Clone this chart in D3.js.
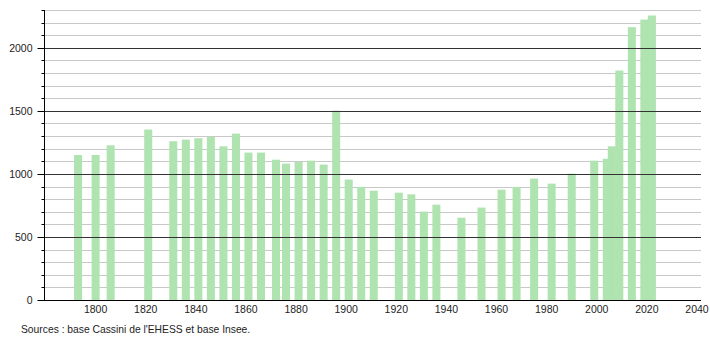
<!DOCTYPE html>
<html>
<head>
<meta charset="utf-8">
<script src="https://cdn.jsdelivr.net/npm/d3@7"></script>
<style>
  body { margin: 0; background: #fff; }
  text { font-family: "Liberation Sans", Arial, sans-serif; }
</style>
</head>
<body>
<div id="chart"></div>
<script>
'use strict';

// Census years and population
var years = [1793, 1800, 1806, 1821, 1831, 1836, 1841, 1846, 1851, 1856,
  1861, 1866, 1872, 1876, 1881, 1886, 1891, 1896, 1901, 1906,
  1911, 1921, 1926, 1931, 1936, 1946, 1954, 1962, 1968, 1975,
  1982, 1990, 1999, 2004, 2006, 2009, 2014, 2019, 2022];
var population = [1150, 1150, 1227, 1352, 1259, 1272, 1283, 1294, 1219, 1320,
  1169, 1169, 1113, 1082, 1095, 1105, 1074, 1502, 955, 897,
  867, 851, 838, 701, 756, 653, 733, 875, 897, 963,
  923, 1002, 1105, 1120, 1219, 1820, 2164, 2224, 2256];
var xTicks = [1800, 1820, 1840, 1860, 1880, 1900, 1920, 1940, 1960, 1980, 2000, 2020, 2040];
var yMajor = [0, 500, 1000, 1500, 2000];
var sourceText = "Sources : base Cassini de l'EHESS et base Insee.";

var W = 710, H = 340;
var plotLeft = 44, plotRight = 701, plotTop = 10, plotBottom = 300;

var svg = d3.select('#chart').append('svg')
  .attr('width', W)
  .attr('height', H);

var x = d3.scaleLinear().domain([1779.4, 2041.6]).range([plotLeft, plotRight]);
var y = d3.scaleLinear().domain([0, 2300]).range([plotBottom, plotTop]);

function py(v) { return Math.round(y(v)) + 0.5; }

// Grid: minor every 100, major every 500
var minor = d3.range(100, 2301, 100).filter(function (v) { return v % 500 !== 0; });
svg.append('g').selectAll('line')
  .data(minor)
  .join('line')
  .attr('x1', plotLeft).attr('x2', plotRight)
  .attr('y1', py).attr('y2', py)
  .attr('stroke', '#c8c8c8')
  .attr('stroke-width', 1);

// Bars
var halfW = 1.6;
svg.append('g').selectAll('rect')
  .data(years.map(function (yr, i) { return { year: yr, value: population[i] }; }))
  .join('rect')
  .attr('x', function (d) { return x(d.year - halfW); })
  .attr('width', function (d) { return x(d.year + halfW) - x(d.year - halfW); })
  .attr('y', function (d) { return y(d.value); })
  .attr('height', function (d) { return y(0) - y(d.value); })
  .attr('fill', '#afe3af');

svg.append('g').selectAll('line')
  .data(yMajor.filter(function (v) { return v > 0; }))
  .join('line')
  .attr('x1', plotLeft).attr('x2', plotRight)
  .attr('y1', py).attr('y2', py)
  .attr('stroke', '#333')
  .attr('stroke-width', 1);

// Y axis with minor ticks
var yAxis = svg.append('g').attr('transform', 'translate(' + (plotLeft + 0.5) + ',0)');
yAxis.append('line')
  .attr('y1', plotTop).attr('y2', plotBottom)
  .attr('stroke', '#000');
yAxis.selectAll('line.minor')
  .data(minor)
  .join('line')
  .attr('class', 'minor')
  .attr('x1', -3).attr('x2', 0)
  .attr('y1', py).attr('y2', py)
  .attr('stroke', '#000');
yAxis.selectAll('line.major')
  .data(yMajor)
  .join('line')
  .attr('class', 'major')
  .attr('x1', -7).attr('x2', 0)
  .attr('y1', py).attr('y2', py)
  .attr('stroke', '#000');
yAxis.selectAll('text')
  .data(yMajor)
  .join('text')
  .attr('x', -12)
  .attr('y', function (d) { return y(d); })
  .attr('dy', '0.35em')
  .attr('text-anchor', 'end')
  .attr('font-size', 10.5)
  .attr('fill', '#222')
  .text(function (d) { return d; });

// X axis
svg.append('line')
  .attr('x1', plotLeft).attr('x2', plotRight)
  .attr('y1', plotBottom + 0.5).attr('y2', plotBottom + 0.5)
  .attr('stroke', '#000');
svg.append('g').selectAll('text')
  .data(xTicks)
  .join('text')
  .attr('x', function (d) { return x(d); })
  .attr('y', 313)
  .attr('text-anchor', 'middle')
  .attr('font-size', 10.5)
  .attr('fill', '#222')
  .text(function (d) { return d; });

// Source caption
svg.append('text')
  .attr('x', 21)
  .attr('y', 333)
  .attr('font-size', 10.3)
  .attr('fill', '#222')
  .text(sourceText);
</script>
</body>
</html>
